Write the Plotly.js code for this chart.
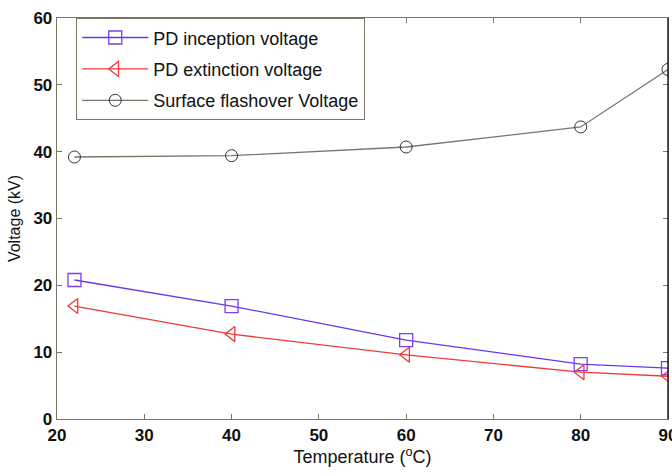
<!DOCTYPE html>
<html><head><meta charset="utf-8">
<script src="https://cdn.plot.ly/plotly-3.0.1.min.js"></script>
<style>html,body{margin:0;padding:0;background:#fff}#chart{width:672px;height:476px}</style>
</head><body><div id="chart"></div>
<script>
const temperature = [22, 40, 60, 80, 90];
const pdInception = [20.8, 16.9, 11.8, 8.2, 7.6];
const pdExtinction = [16.9, 12.7, 9.6, 7.0, 6.4];
const flashover = [39.2, 39.4, 40.7, 43.7, 52.3];
const seriesNames = ['PD inception voltage', 'PD extinction voltage', 'Surface flashover Voltage'];

const sans = 'Liberation Sans, Arial';
const traces = [
  {x: temperature, y: pdInception, name: seriesNames[0], legendgroup: 'a', mode: 'lines+markers',
   line: {color: '#6a35f0', width: 1.3}, marker: {symbol: 'square-open', size: 13, color: '#7a3ff0', line: {width: 1.3}}},
  {x: temperature, y: pdExtinction, name: seriesNames[1], legendgroup: 'b', mode: 'lines+markers',
   line: {color: '#f03a3a', width: 1.3}, marker: {symbol: 'triangle-left-open', size: 13, color: '#f03a3a', line: {width: 1.3}}},
  {x: temperature, y: flashover, name: seriesNames[2], legendgroup: 'c', mode: 'lines+markers',
   line: {color: '#7a7566', width: 1.3}, marker: {symbol: 'circle-open', size: 12, color: '#333', line: {width: 1}}}
];

const axisCommon = {
  showgrid: false, zeroline: false, showline: true, mirror: 'ticks',
  linecolor: '#7a7566', linewidth: 1.3, ticks: 'inside', ticklen: 5, tickcolor: '#7a7566',
  ticklabeloverflow: 'allow',
  tickfont: {family: sans, size: 17, color: '#111', weight: 'bold'}
};

const layout = {
  width: 672, height: 476,
  margin: {l: 57, r: 4, t: 18, b: 57},
  paper_bgcolor: '#fff', plot_bgcolor: '#fff',
  font: {family: sans, color: '#111'},
  showlegend: true,
  legend: {x: 0.031, y: 1, xanchor: 'left', yanchor: 'top', bgcolor: '#fff',
    bordercolor: '#7a7566', borderwidth: 1.3, itemwidth: 66, tracegroupgap: 5,
    font: {family: sans, size: 18, color: '#111'}},
  xaxis: Object.assign({}, axisCommon, {range: [20, 90], dtick: 10, tick0: 20,
    title: {text: 'Temperature (<sup>o</sup>C)', standoff: 6, font: {family: sans, size: 18, color: '#111'}}}),
  yaxis: Object.assign({}, axisCommon, {range: [0, 60], dtick: 10, tick0: 0,
    title: {text: 'Voltage (kV)', standoff: 8, font: {family: sans, size: 16, color: '#111'}}}),
  shapes: [
    {type: 'line', xref: 'paper', yref: 'paper', x0: 1, x1: 1, y0: 0, y1: 1, line: {color: '#222', width: 1.5}}
  ]
};

Plotly.newPlot('chart', traces, layout, {displayModeBar: false, staticPlot: true});
</script></body></html>
